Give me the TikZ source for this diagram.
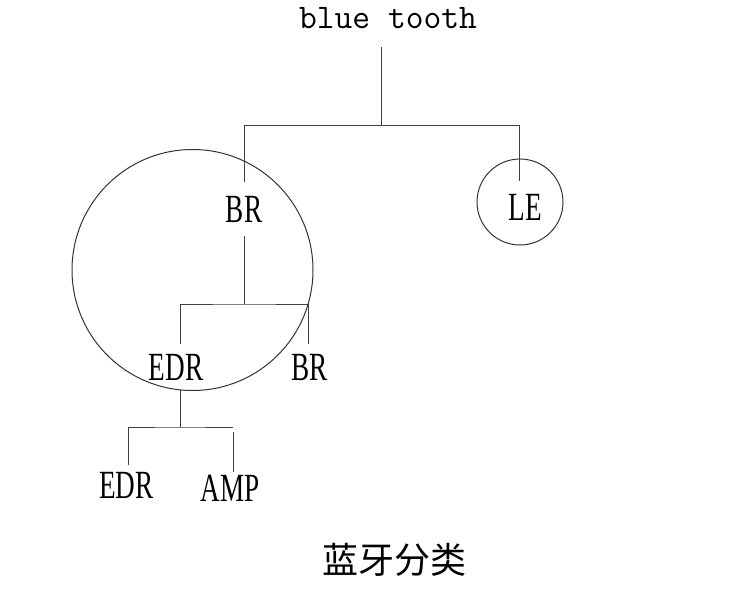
\documentclass[tikz,border=0pt]{standalone}
\usepackage{fontspec}
\newfontfamily\labelfont[FakeStretch=0.68]{Liberation Serif}
\newfontfamily\cjkfont{Noto Sans CJK SC}
\usetikzlibrary{positioning}
\tikzset{
  treelabel/.style={
    inner sep=0pt, text height=26pt, text depth=0pt,
    anchor=base, outer ysep=#1,
    font=\labelfont\fontsize{40pt}{40pt}\selectfont
  },
  treelabel/.default=10pt,
  treeline/.style={line width=1pt, draw=black!75},
  groupring/.style={line width=1pt, draw=black!80},
}

\begin{document}
\begin{tikzpicture}[x=1pt, y=1pt]
  \fill[white] (0,0) rectangle (752,-595);
  \useasboundingbox (0,0) rectangle (752,-595);

  % labels
  \node[inner sep=0pt, text height=19pt, text depth=0pt, anchor=base,
        outer ysep=19pt, font=\ttfamily\fontsize{34.5pt}{34.5pt}\selectfont]
        (bt) at (388,-28) {blue tooth};
  \node[treelabel=14pt] (br) at (244,-222) {BR};
  \node[treelabel=13pt] (le) at (525,-220) {LE};
  \node[treelabel=10pt] (edr) at (176,-380) {EDR};
  \node[treelabel=10pt] (brr) at (309.5,-380) {BR};
  \node[treelabel=7pt] (edrb) at (126.5,-498) {EDR};
  \node[treelabel=3pt] (amp) at (230,-501) {AMP};
  \node[font=\cjkfont\fontsize{36pt}{36pt}\selectfont] (title) at (394,-560) {蓝牙分类};

  % rings
  \draw[groupring] (192.5,-270) circle (120.5pt);
  \draw[groupring] (520,-202) circle (43pt);

  % tree
  \draw[treeline] ([xshift=-7pt]bt.south) -- ++(0,-78);
  \draw[treeline] (br.north) -- ++(0,57) -| ([xshift=-6pt]le.north);
  \draw[treeline] (br.south) -- ++(0,-68) coordinate (brbar);
  \draw[treeline] ([xshift=4pt]edr.north) |- (brbar) -| ([xshift=-1.5pt]brr.north);
  \draw[treeline] ([xshift=4pt]edr.south) -- ++(0,-37) coordinate (edrbar);
  \draw[treeline] ([xshift=1.5pt]edrb.north) |- (edrbar) -- ++(53,0);
  \draw[treeline] ([xshift=3pt]amp.north) -- ++(0,40);
\end{tikzpicture}
\end{document}
